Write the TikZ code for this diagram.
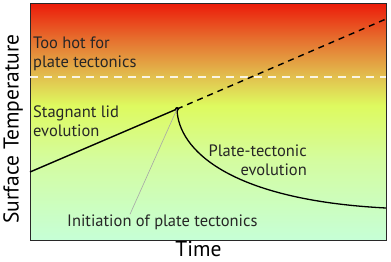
\documentclass[tikz,border=0pt]{standalone}
\usepackage{fontspec}
\setmainfont{PT Sans}
\usepackage{xcolor}
\usetikzlibrary{
    positioning
}

\definecolor{hotred}{RGB}{236,28,10}
\definecolor{hotorange}{RGB}{230,115,48}
\definecolor{warmtan}{RGB}{226,190,78}
\definecolor{limeyellow}{RGB}{222,250,95}
\definecolor{palegreen}{RGB}{212,252,160}
\definecolor{coolgreen}{RGB}{198,255,215}
\definecolor{framegray}{RGB}{40,40,40}

\pgfdeclareverticalshading{tempgrad}{100bp}{
    color(0bp)=(coolgreen); color(25bp)=(coolgreen);
    color(41.9bp)=(palegreen); color(53.5bp)=(limeyellow);
    color(59.8bp)=(warmtan); color(67.2bp)=(hotorange);
    color(75bp)=(hotred); color(100bp)=(hotred)}

\begin{document}
\begin{tikzpicture}[
    x=1pt, y=-1pt,
    plotbox/.style={
        rectangle,
        draw=framegray,
        line width=1.3pt,
        shading=tempgrad,
        minimum width=356pt,
        minimum height=237pt,
        inner sep=0pt
    },
    note/.style={
        font=\fontsize{16.5}{19}\selectfont,
        text=black!85,
        inner sep=0pt
    },
    axislabel/.style={
        font=\fontsize{21.5}{24}\selectfont,
        inner sep=0pt
    },
    trend/.style={line width=1.4pt},
    limitline/.style={white, opacity=0.85, line width=1.3pt, dash pattern=on 8pt off 6pt},
    pointer/.style={gray!70, line width=0.6pt}
]
\useasboundingbox (0,0) rectangle (391,262);

% plot area
\node[plotbox, anchor=north west] (plot) at (30,3) {};

\coordinate (start) at (30,172);
\coordinate (onset) at (177,109);
\coordinate (future) at (386,19);
\coordinate (late) at (386,208);
\coordinate (limitW) at (30,77);
\coordinate (limitE) at (386,77);

% curves
\draw[limitline] (limitW) -- (limitE);
\draw[trend] (start) -- (onset);
\draw[trend, dash pattern=on 6pt off 5pt] (onset) -- (future);
\draw[line width=1.3pt] (onset) .. controls (178,150) and (230,200) .. (late);
\fill (onset) circle (2pt);

% labels
\node[note, align=left, anchor=west] (toohot) at (33,53.5) {Too hot for\\plate tectonics};
\node[note, align=left, anchor=west] (stagnant) at (33,121.5) {Stagnant lid\\evolution};
\node[note, align=right, anchor=east] (platetec) at (307,160.5) {Plate-tectonic\\evolution};
\node[note, anchor=west] (initiation) at (67,222) {Initiation of plate tectonics};
\draw[pointer] (onset) -- ([xshift=63pt]initiation.north west);

% axes
\node[axislabel, rotate=90] (ylab) at (13,129) {Surface Temperature};
\node[axislabel, anchor=base] (xlab) at (198.5,256.5) {Time};

\end{tikzpicture}
\end{document}
